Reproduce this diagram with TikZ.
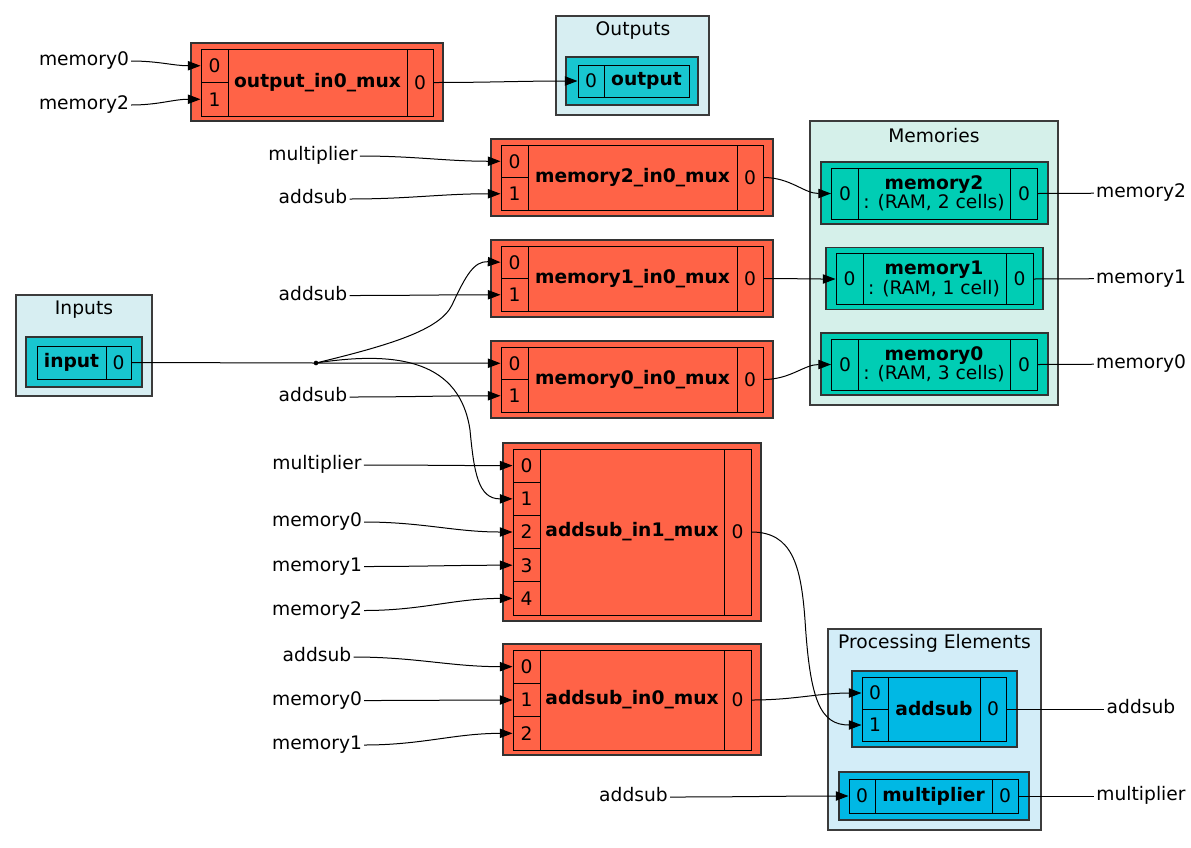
\documentclass[tikz,border=0pt]{standalone}
\usepackage{fontspec}
\setmainfont{DejaVu Sans}
\usetikzlibrary{arrows.meta}
\definecolor{muxred}{RGB}{255,99,71}
\definecolor{iocyan}{RGB}{24,198,208}
\definecolor{memgreen}{RGB}{0,205,180}
\definecolor{peblue}{RGB}{0,184,228}
\definecolor{iofill}{RGB}{215,238,242}
\definecolor{memfill}{RGB}{213,240,234}
\definecolor{pefill}{RGB}{211,237,248}
\definecolor{clusterline}{RGB}{60,60,60}
\def\pxu{0.75pt}

\tikzset{
  boxsize/.style 2 args={minimum width=#1*\pxu, minimum height=#2*\pxu},
  cluster/.style={draw=clusterline, line width=1pt, inner sep=0},
  outerbox/.style={draw=black!80, line width=0.9pt, inner sep=0},
  cellbox/.style={draw=black, line width=0.75pt, inner sep=0},
  sidelabel/.style={inner sep=1.5pt, text height=10.2pt, text depth=3pt},
  wire/.style={line width=0.75pt, -{Triangle[length=9.5pt,width=7pt]}},
  plainwire/.style={line width=0.75pt},
  junction/.style={circle, fill=black, inner sep=0, minimum size=3.5pt},
}

\begin{document}
\begin{tikzpicture}[x=0.75pt, y=-0.75pt,
    every node/.append style={font=\fontsize{14}{14.5}\selectfont}]
  \useasboundingbox (0,0) rectangle (1191,847);

  % clusters
  \node[cluster, fill=iofill, boxsize={153}{99}] (outputs) at (632.5,65.5) {};
  \node (outputs-title) at (633,31) {Outputs};
  \node[cluster, fill=iofill, boxsize={136}{101}] (inputs) at (84,345.5) {};
  \node (inputs-title) at (84,310) {Inputs};
  \node[cluster, fill=memfill, boxsize={248}{284}] (memories) at (934,263) {};
  \node (memories-title) at (934,136) {Memories};
  \node[cluster, fill=pefill, boxsize={213}{201}] (pes) at (934.5,729.5) {};
  \node (pes-title) at (934.5,643) {Processing Elements};

  % output / input
  \node[outerbox, fill=iocyan, boxsize={132}{48}] (out-box) at (632,81) {};
  \node[cellbox, boxsize={111}{32}] (out-in) at (633.5,81) {};
  \node[cellbox, boxsize={26}{32}] (out-i0) at (591,81) {0};
  \node (out-name) at (646.5,81) {\textbf{output}};

  \node[outerbox, fill=iocyan, boxsize={116}{50}] (in-box) at (84,362) {};
  \node[cellbox, boxsize={94}{33}] (in-in) at (84,362.5) {};
  \node[cellbox, boxsize={25}{33}] (in-o0) at (118.5,362.5) {0};
  \node (in-name) at (71.5,362.5) {\textbf{input}};

  % output mux
  \node[outerbox, fill=muxred, boxsize={252}{78}] (om-box) at (317,82) {};
  \node[cellbox, boxsize={232}{67}] (om-in) at (317,82.5) {};
  \foreach \k in {0,1}
    \node[cellbox, boxsize={27}{33.5}] (om-i\k) at (214.5,{65.75+33.5*\k}) {\k};
  \node[cellbox, boxsize={26}{67}] (om-o0) at (420,82.5) {0};
  \node (om-name) at (317.5,82.5) {\textbf{output\_in0\_mux}};

  % memory muxes
  \foreach \n/\y in {2/177.5, 1/278.5, 0/379.5} {
    \node[outerbox, fill=muxred, boxsize={282}{77}] (m\n-box) at (632,\y) {};
    \node[cellbox, boxsize={262}{65}] (m\n-in) at (632,\y) {};
    \node[cellbox, boxsize={27}{32.5}] (m\n-i0) at (514.5,\y-16.25) {0};
    \node[cellbox, boxsize={27}{32.5}] (m\n-i1) at (514.5,\y+16.25) {1};
    \node[cellbox, boxsize={26}{65}] (m\n-o0) at (750,\y) {0};
    \node (m\n-name) at (632.5,\y) {\textbf{memory\n\_in0\_mux}};
  }

  % addsub muxes
  \node[outerbox, fill=muxred, boxsize={258}{178}] (a1-box) at (632,532) {};
  \node[cellbox, boxsize={238}{166}] (a1-in) at (632,532) {};
  \foreach \k in {0,...,4}
    \node[cellbox, boxsize={27}{33.2}] (a1-i\k) at (526.5,{465.6+33.2*\k}) {\k};
  \node[cellbox, boxsize={27}{166}] (a1-o0) at (737.5,532) {0};
  \node (a1-name) at (632,532) {\textbf{addsub\_in1\_mux}};

  \node[outerbox, fill=muxred, boxsize={258}{111}] (a0-box) at (632,699.5) {};
  \node[cellbox, boxsize={238}{100}] (a0-in) at (632,700) {};
  \foreach \k in {0,1,2}
    \node[cellbox, boxsize={27}{33.33}] (a0-i\k) at (526.5,{666.67+33.33*\k}) {\k};
  \node[cellbox, boxsize={27}{100}] (a0-o0) at (737.5,700) {0};
  \node (a0-name) at (632,700) {\textbf{addsub\_in0\_mux}};

  % memories
  \foreach \n/\y/\ow/\iw/\cells in {2/193/227/206/{2 cells}, 1/278.5/217/197/{1 cell}, 0/364/227/206/{3 cells}} {
    \node[outerbox, fill=memgreen, boxsize={\ow}{62}] (mem\n-box) at (934.5,\y) {};
    \node[cellbox, boxsize={\iw}{51}] (mem\n-in) at (934.5,\y+0.5) {};
    \node[cellbox, boxsize={27}{51}] (mem\n-i0) at ({934.5-\iw/2+13.5},\y+0.5) {0};
    \node[cellbox, boxsize={27}{51}] (mem\n-o0) at ({934.5+\iw/2-13.5},\y+0.5) {0};
    \node[align=center] (mem\n-name) at (934,\y+0.5) {\textbf{memory\n}\\: (RAM, \cells)};
    \node[sidelabel] (rmem\n) at (1141,\y) {memory\n};
    \draw[plainwire] (mem\n-o0.east) -- (rmem\n);
    \draw[wire] (m\n-o0.east) to[out=0,in=180] (mem\n-i0.west);
  }

  % processing elements
  \node[outerbox, fill=peblue, boxsize={165}{76}] (as-box) at (934.5,709) {};
  \node[cellbox, boxsize={144}{64}] (as-in) at (934,709) {};
  \node[cellbox, boxsize={26}{32}] (as-i0) at (875,693) {0};
  \node[cellbox, boxsize={26}{32}] (as-i1) at (875,725) {1};
  \node[cellbox, boxsize={26}{64}] (as-o0) at (993,709) {0};
  \node (as-name) at (934,709) {\textbf{addsub}};

  \node[outerbox, fill=peblue, boxsize={190}{48}] (mul-box) at (934,796) {};
  \node[cellbox, boxsize={169}{34}] (mul-in) at (933.5,796) {};
  \node[cellbox, boxsize={26}{34}] (mul-i0) at (862,796) {0};
  \node[cellbox, boxsize={26}{34}] (mul-o0) at (1005,796) {0};
  \node (mul-name) at (933.5,796) {\textbf{multiplier}};

  \node[sidelabel] (ras) at (1141,709) {addsub};
  \node[sidelabel] (rmul) at (1141,796) {multiplier};
  \draw[plainwire] (as-o0.east) -- (ras);
  \draw[plainwire] (mul-o0.east) -- (rmul);

  % left labels
  \node[sidelabel] (lm0a) at (84,61) {memory0};
  \node[sidelabel] (lm2a) at (84,105) {memory2};
  \node[sidelabel] (lmula) at (313,156) {multiplier};
  \node[sidelabel] (lasa) at (313,199) {addsub};
  \node[sidelabel] (lasb) at (313,295.5) {addsub};
  \node[sidelabel] (lasc) at (313,397) {addsub};
  \node[sidelabel] (lmulb) at (317,465) {multiplier};
  \node[sidelabel] (lm0b) at (317,522) {memory0};
  \node[sidelabel] (lm1b) at (317,566.5) {memory1};
  \node[sidelabel] (lm2b) at (317,610.5) {memory2};
  \node[sidelabel] (lasd) at (317,657) {addsub};
  \node[sidelabel] (lm0c) at (317,700.5) {memory0};
  \node[sidelabel] (lm1c) at (317,745) {memory1};
  \node[sidelabel] (lase) at (633.5,797) {addsub};

  \draw[wire] (lm0a) to[out=0,in=180] (om-i0.west);
  \draw[wire] (lm2a) to[out=0,in=180] (om-i1.west);
  \draw[wire] (om-o0.east) to[out=0,in=180] (out-i0.west);
  \draw[wire] (lmula) to[out=0,in=180] (m2-i0.west);
  \draw[wire] (lasa) to[out=0,in=180] (m2-i1.west);
  \draw[wire] (lasb) to[out=0,in=180] (m1-i1.west);
  \draw[wire] (lasc) to[out=0,in=180] (m0-i1.west);
  \draw[wire] (lmulb) to[out=0,in=180] (a1-i0.west);
  \draw[wire] (lm0b) to[out=0,in=180] (a1-i2.west);
  \draw[wire] (lm1b) to[out=0,in=180] (a1-i3.west);
  \draw[wire] (lm2b) to[out=0,in=180] (a1-i4.west);
  \draw[wire] (lasd) to[out=0,in=180] (a0-i0.west);
  \draw[wire] (lm0c) to[out=0,in=180] (a0-i1.west);
  \draw[wire] (lm1c) to[out=0,in=180] (a0-i2.west);
  \draw[wire] (lase) to[out=0,in=180] (mul-i0.west);

  % input fan-out
  \node[junction] (jin) at (316,363) {};
  \draw[plainwire] (in-o0.east) -- (jin.center);
  \draw[wire] (jin.center) -- (m0-i0.west);
  \draw[wire] (jin.center) .. controls (390,345) and (440,330) .. (452,305)
    .. controls (466,275) and (474,261) .. (m1-i0.west);
  \draw[wire] (jin.center) .. controls (400,350) and (460,362) .. (470,430)
    .. controls (474,472) and (478,499) .. (a1-i1.west);

  % muxes to processing elements
  \draw[wire] (a0-o0.east) to[out=0,in=180] (as-i0.west);
  \draw[wire] (a1-o0.east) .. controls (792,532) and (801,565) .. (805,620)
    .. controls (810,700) and (820,725) .. (as-i1.west);
\end{tikzpicture}
\end{document}
